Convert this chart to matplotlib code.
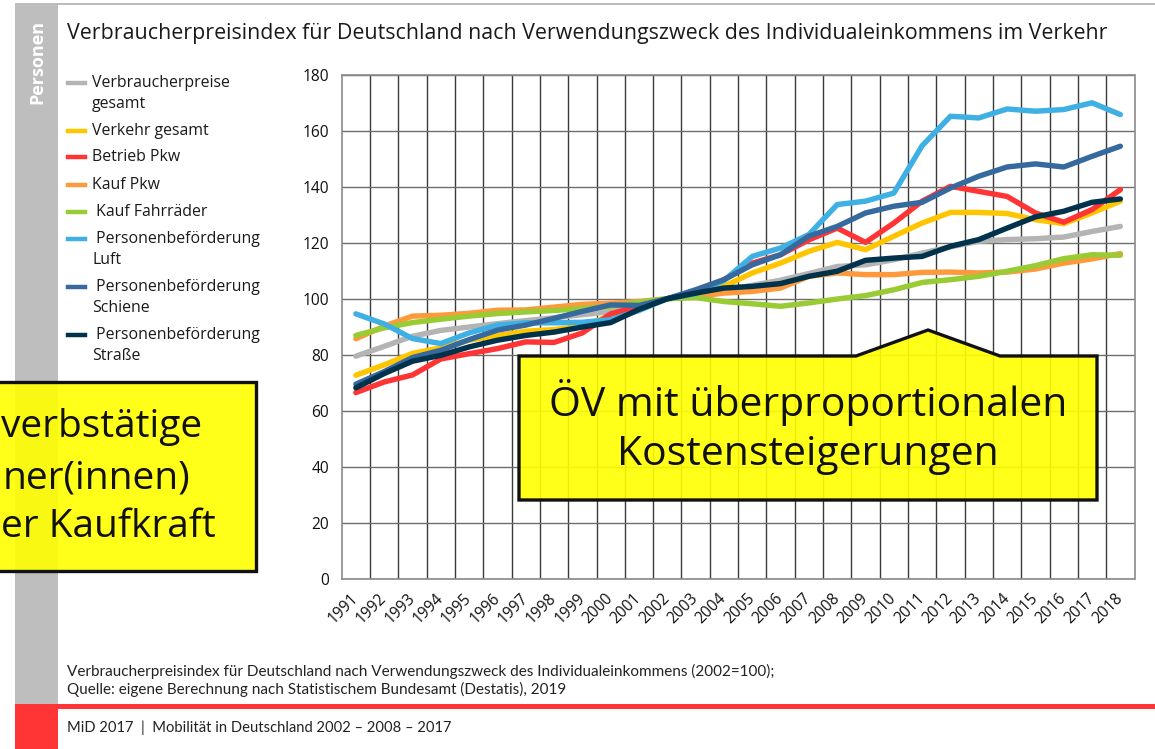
import matplotlib
matplotlib.use("Agg")
import matplotlib.pyplot as plt
from matplotlib.patches import Polygon, Rectangle
from matplotlib.lines import Line2D
from matplotlib import font_manager as fm

# ---------------- data ----------------
years = [str(y) for y in range(1991, 2019)]

verbraucherpreise = [79.5, 83.0, 86.6, 88.7, 89.9, 91.1, 92.2, 93.2, 94.3, 95.4, 97.1, 100.0, 101.0, 103.0,
                     104.8, 106.6, 109.0, 111.5, 112.1, 113.9, 116.3, 118.5, 120.5, 121.1, 121.4, 122.0, 124.0, 125.8]
verkehr = [72.7, 76.4, 80.5, 82.5, 85.2, 86.9, 88.4, 89.0, 90.2, 94.0, 97.0, 100.0, 102.0, 104.4,
           109.2, 112.7, 116.9, 120.1, 117.5, 122.3, 127.0, 130.8, 130.8, 130.4, 128.2, 126.8, 130.6, 134.8]
betrieb_pkw = [66.5, 70.3, 72.8, 78.5, 80.4, 82.2, 84.6, 84.4, 87.8, 94.6, 97.3, 100.0, 102.6, 106.8,
               112.7, 115.7, 121.0, 125.2, 120.1, 127.0, 134.8, 140.1, 138.3, 136.5, 130.6, 127.3, 131.8, 138.9]
kauf_pkw = [85.7, 90.2, 93.8, 94.1, 94.8, 95.9, 96.0, 97.0, 98.0, 98.4, 99.0, 100.0, 100.8, 102.0,
            102.6, 103.8, 108.0, 109.2, 108.6, 108.6, 109.4, 109.5, 109.2, 109.5, 110.6, 112.7, 114.2, 116.1]
kauf_fahrraeder = [86.9, 89.6, 91.5, 92.7, 93.8, 94.7, 95.3, 95.8, 96.5, 97.2, 98.8, 100.0, 100.4, 99.0,
                   98.2, 97.3, 98.5, 99.9, 101.1, 103.2, 105.8, 106.8, 108.0, 109.8, 111.8, 114.3, 115.7, 115.5]
luft = [94.6, 91.0, 85.8, 84.0, 87.8, 90.6, 91.4, 91.4, 91.6, 92.5, 95.8, 100.0, 101.8, 106.5,
        115.1, 118.1, 122.9, 133.6, 134.8, 137.7, 154.6, 165.1, 164.5, 167.7, 166.9, 167.5, 169.9, 165.7]
schiene = [69.5, 74.0, 79.0, 81.6, 85.4, 88.8, 90.6, 93.0, 95.5, 97.8, 97.6, 100.0, 103.2, 106.8,
           112.1, 115.7, 122.3, 125.8, 130.6, 133.0, 134.4, 139.5, 143.7, 147.0, 148.1, 147.0, 150.8, 154.4]
strasse = [68.2, 73.3, 77.7, 79.8, 82.8, 85.2, 86.9, 88.1, 89.9, 91.5, 96.2, 100.0, 102.0, 103.8,
           104.4, 105.4, 108.0, 109.8, 113.7, 114.5, 115.1, 118.7, 121.1, 125.2, 129.2, 131.2, 134.4, 135.6]

series_labels = [["Verbraucherpreise", "gesamt"], ["Verkehr gesamt"], ["Betrieb Pkw"], ["Kauf Pkw"],
                 [" Kauf Fahrräder"], [" Personenbeförderung", "Luft"], [" Personenbeförderung", "Schiene"],
                 [" Personenbeförderung", "Straße"]]
series_values = [verbraucherpreise, verkehr, betrieb_pkw, kauf_pkw, kauf_fahrraeder, luft, schiene, strasse]
series_colors = ["#B4B4B4", "#FFC600", "#FF3535", "#FF9A3C", "#98CB34", "#3FB0E4", "#36699E", "#00324B"]

y_ticks = [0, 20, 40, 60, 80, 100, 120, 140, 160, 180]

title = "Verbraucherpreisindex für Deutschland nach Verwendungszweck des Individualeinkommens im Verkehr"
footnote1 = "Verbraucherpreisindex für Deutschland nach Verwendungszweck des Individualeinkommens (2002=100);"
footnote2 = "Quelle: eigene Berechnung nach Statistischem Bundesamt (Destatis), 2019"
footer = "MiD 2017  |  Mobilität in Deutschland 2002 – 2008 – 2017"
sidebar_text = "Personen"
callout_main = ["ÖV mit überproportionalen", "Kostensteigerungen"]
callout_left = ["verbstätige", "ner(innen)", "er Kaufkraft"]

# ---------------- fonts ----------------
available = {f.name for f in fm.fontManager.ttflist}
def pick(*names):
    for n in names:
        if n in available:
            return n
    return "DejaVu Sans"

MAIN = pick("Open Sans", "Noto Sans", "DejaVu Sans")
NOTE = pick("Lato", "Liberation Sans Narrow", "Open Sans", "DejaVu Sans")
plt.rcParams["font.family"] = [MAIN, "DejaVu Sans"]

W, H = 1155, 749
fig = plt.figure(figsize=(W / 100, H / 100), dpi=100)
fig.patch.set_facecolor("white")

def fx(x):
    return x / W

def fy(y):
    return 1 - y / H

# ---------------- page decoration ----------------
fig.add_artist(Rectangle((fx(15), fy(5)), fx(1155) - fx(15), 2.2 / H, transform=fig.transFigure,
                         facecolor="#BDBDBD", edgecolor="none", zorder=0))
fig.add_artist(Rectangle((fx(15), fy(704)), fx(58) - fx(15), (704 - 5) / H, transform=fig.transFigure,
                         facecolor="#BEBEBE", edgecolor="none", zorder=0))
fig.add_artist(Rectangle((fx(15), fy(749)), fx(58) - fx(15), (749 - 704) / H, transform=fig.transFigure,
                         facecolor="#FF3535", edgecolor="none", zorder=0))
fig.add_artist(Rectangle((fx(58), fy(709)), fx(1155) - fx(58), 5 / H, transform=fig.transFigure,
                         facecolor="#FF3535", edgecolor="none", zorder=0))
fig.text(fx(37), fy(62), sidebar_text, rotation=90, ha="center", va="center", color="white",
         fontsize=13, fontweight="bold")

fig.text(fx(67), fy(33), title, ha="left", va="center", fontsize=15.4, color="#1a1a1a")

fig.text(fx(67), fy(671), footnote1, ha="left", va="center", fontsize=11.0, color="#222222",
         family=[NOTE, "DejaVu Sans"])
fig.text(fx(67), fy(689), footnote2, ha="left", va="center", fontsize=11.0, color="#222222",
         family=[NOTE, "DejaVu Sans"])
fig.text(fx(67), fy(728), footer, ha="left", va="center", fontsize=10.6, color="#222222",
         family=[NOTE, "DejaVu Sans"])

# ---------------- axes ----------------
ax = fig.add_axes([fx(341.7), fy(579), fx(1134.5) - fx(341.7), (579 - 74.5) / H])
x = list(range(len(years)))
for vals, col in zip(series_values, series_colors):
    ax.plot(x, vals, color=col, lw=3.9, solid_joinstyle="round", solid_capstyle="round", zorder=3)

ax.set_xlim(-0.5, len(years) - 0.5)
ax.set_ylim(0, 180)
ax.set_yticks(y_ticks)
ax.set_yticklabels([str(v) for v in y_ticks])
ax.set_xticks(x)
ax.set_xticklabels(years, rotation=45, ha="right", va="center", rotation_mode="anchor")
ax.set_xticks([i + 0.5 for i in range(len(years) - 1)], minor=True)
ax.tick_params(axis="both", which="both", length=0, labelsize=11.2, colors="#111111")
ax.tick_params(axis="y", pad=9)
ax.tick_params(axis="x", pad=12)
ax.grid(True, axis="y", which="major", color="#6e6e6e", lw=1.0, zorder=1)
ax.grid(True, axis="x", which="minor", color="#3a3a3a", lw=1.0, zorder=1)
ax.grid(False, axis="x", which="major")
for s in ax.spines.values():
    s.set_color("#8a8a8a")
    s.set_linewidth(1.2)
ax.set_axisbelow(True)

# ---------------- legend (manual) ----------------
legend_rows = [83, 131, 157, 185, 212, 239, 287, 335]
for lab, col, yr in zip(series_labels, series_colors, legend_rows):
    fig.add_artist(Line2D([fx(68), fx(85)], [fy(yr), fy(yr)], transform=fig.transFigure,
                          color=col, lw=3.2))
    for k, line in enumerate(lab):
        fig.text(fx(92), fy(yr + 21 * k), line, ha="left", va="center", fontsize=11.4, color="#1a1a1a")

# ---------------- callouts ----------------
main_pts = [(519, 356), (856, 356), (928, 330), (1000, 356), (1097, 356), (1097, 500), (519, 500)]
fig.add_artist(Polygon([(fx(a), fy(b)) for a, b in main_pts], closed=True, transform=fig.transFigure,
                       facecolor=(1, 1, 0, 0.9), edgecolor="#111111", lw=2.4, zorder=5))
for txt, yy in zip(callout_main, [403, 455]):
    fig.text(fx(808), fy(yy), txt, ha="center", va="center", fontsize=29.4, color="#111111", zorder=6)

left_pts = [(-6, 382), (256, 382), (256, 571), (-6, 571)]
fig.add_artist(Polygon([(fx(a), fy(b)) for a, b in left_pts], closed=True, transform=fig.transFigure,
                       facecolor=(1, 1, 0, 0.9), edgecolor="#111111", lw=2.4, zorder=5))
for txt, yy, xl in zip(callout_left, [427, 478, 527], [1, 3, 1]):
    fig.text(fx(xl), fy(yy), txt, ha="left", va="center", fontsize=28.0, color="#111111", zorder=6)

fig.savefig("out.png", dpi=100)
